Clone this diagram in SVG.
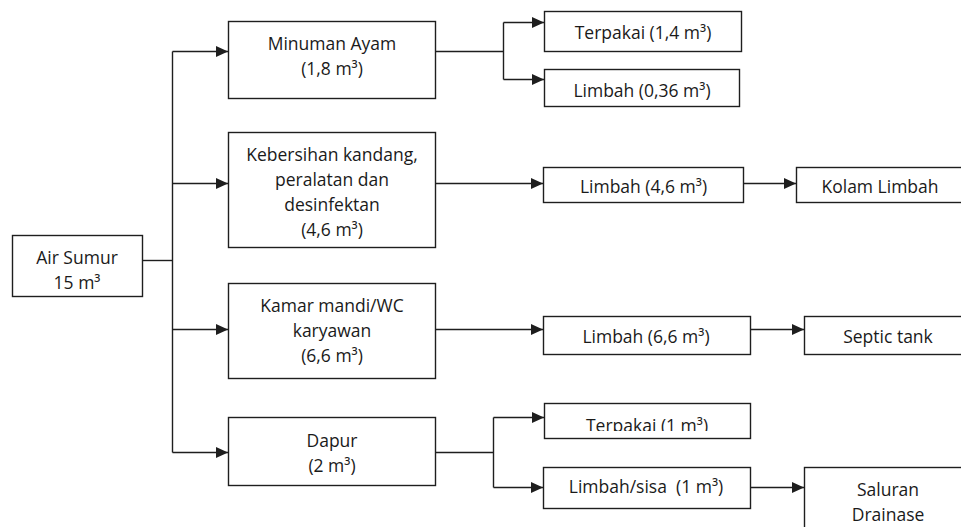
<svg xmlns="http://www.w3.org/2000/svg" width="961" height="527" viewBox="0 0 961 527">
<defs>
<style>
.box{fill:none;stroke:#1e1e1e;stroke-width:1.4}
.t{font-family:"Open Sans","Liberation Sans",sans-serif;font-size:17.5px;fill:#1a1a1a;text-anchor:middle}
.c{fill:none;stroke:#1e1e1e;stroke-width:1.4}
.a{marker-end:url(#ah)}
</style>
<marker id="ah" markerUnits="userSpaceOnUse" markerWidth="13" markerHeight="12" refX="12" refY="6" orient="auto">
<path d="M0,0.5 L12,6 L0,11.5 Z" fill="#1e1e1e"/>
</marker>
<clipPath id="clipT1"><rect x="540" y="400" width="220" height="31"/></clipPath>
</defs>
<rect width="961" height="527" fill="#fff"/>
<g id="connectors">
<path class="c" d="M142,260.5 H172.5"/>
<path class="c" d="M172.5,51.5 V452.5"/>
<path class="c a" d="M172.5,51.5 H228"/>
<path class="c a" d="M172.5,183.5 H228"/>
<path class="c a" d="M172.5,329.5 H228"/>
<path class="c a" d="M172.5,452.5 H228"/>
<path class="c" d="M436,51.5 H503.5 M503.5,22.5 V79.5"/>
<path class="c a" d="M503.5,22.5 H544"/>
<path class="c a" d="M503.5,79.5 H544"/>
<path class="c a" d="M436,183.5 H543"/>
<path class="c a" d="M744,183.5 H796"/>
<path class="c a" d="M436,329.5 H543"/>
<path class="c a" d="M751,329.5 H804"/>
<path class="c" d="M436,452.5 H493.5 M493.5,417.5 V487.5"/>
<path class="c a" d="M493.5,417.5 H544"/>
<path class="c a" d="M493.5,487.5 H543"/>
<path class="c a" d="M751,487.5 H804"/>
</g>
<g id="air-sumur">
<rect class="box" x="12.5" y="235.5" width="130" height="61"/>
<text class="t" x="77" y="264">Air Sumur</text>
<text class="t" x="77" y="288.5">15 m³</text>
</g>
<g id="minuman-ayam">
<rect class="box" x="228.5" y="21.5" width="207" height="77"/>
<text class="t" x="332" y="49.5">Minuman Ayam</text>
<text class="t" x="332" y="75">(1,8 m³)</text>
</g>
<g id="kebersihan">
<rect class="box" x="228.5" y="132.5" width="207" height="115"/>
<text class="t" x="332" y="161">Kebersihan kandang,</text>
<text class="t" x="332" y="186">peralatan dan</text>
<text class="t" x="332" y="211">desinfektan</text>
<text class="t" x="332" y="236">(4,6 m³)</text>
</g>
<g id="kamar-mandi">
<rect class="box" x="228.5" y="283.5" width="207" height="95"/>
<text class="t" x="332" y="311.5">Kamar mandi/WC</text>
<text class="t" x="332" y="336.5">karyawan</text>
<text class="t" x="332" y="361.5">(6,6 m³)</text>
</g>
<g id="dapur">
<rect class="box" x="228.5" y="417.5" width="207" height="68"/>
<text class="t" x="332" y="447">Dapur</text>
<text class="t" x="332" y="471.5">(2 m³)</text>
</g>
<g id="terpakai-14">
<rect class="box" x="544.5" y="11.5" width="197" height="40"/>
<text class="t" x="643" y="39">Terpakai (1,4 m³)</text>
</g>
<g id="limbah-036">
<rect class="box" x="544.5" y="69.5" width="195" height="37"/>
<text class="t" x="642" y="96.5">Limbah (0,36 m³)</text>
</g>
<g id="limbah-46">
<rect class="box" x="543.5" y="167.5" width="200" height="35"/>
<text class="t" x="643.5" y="193">Limbah (4,6 m³)</text>
</g>
<g id="kolam-limbah">
<rect class="box" x="796.5" y="167.5" width="180" height="35"/>
<text class="t" x="880" y="193">Kolam Limbah</text>
</g>
<g id="limbah-66">
<rect class="box" x="543.5" y="316.5" width="207" height="38"/>
<text class="t" x="646" y="342.5">Limbah (6,6 m³)</text>
</g>
<g id="septic-tank">
<rect class="box" x="804.5" y="316.5" width="180" height="38"/>
<text class="t" x="888" y="342.5">Septic tank</text>
</g>
<g id="terpakai-1">
<rect class="box" x="544.5" y="403.5" width="206" height="35"/>
<text class="t" x="647" y="432" clip-path="url(#clipT1)">Terpakai (1 m³)</text>
</g>
<g id="limbah-sisa">
<rect class="box" x="543.5" y="467.5" width="207" height="41"/>
<text class="t" x="646" y="493" xml:space="preserve">Limbah/sisa  (1 m³)</text>
</g>
<g id="saluran-drainase">
<rect class="box" x="804.5" y="467.5" width="180" height="80"/>
<text class="t" x="888" y="495.5">Saluran</text>
<text class="t" x="888" y="521">Drainase</text>
</g>
</svg>
